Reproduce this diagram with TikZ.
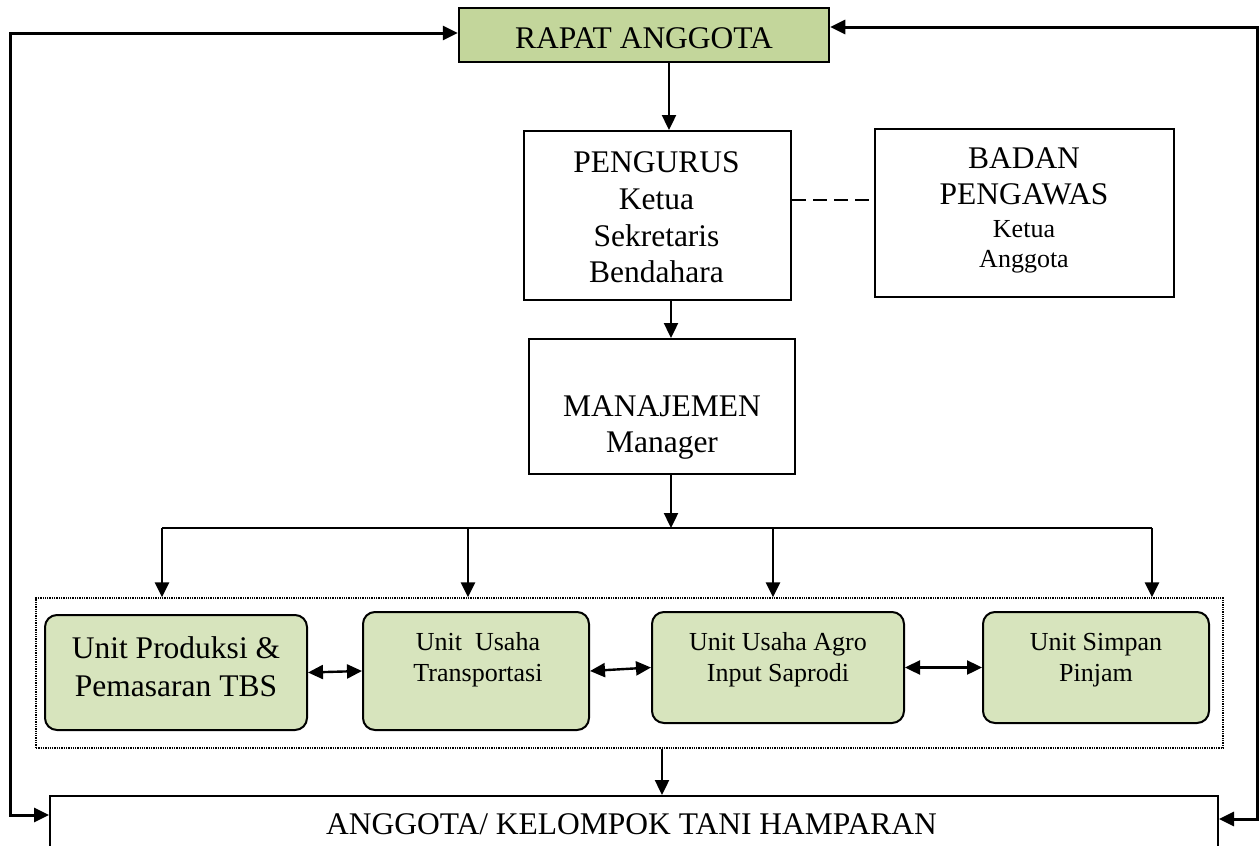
\documentclass[tikz,border=0pt]{standalone}
\usepackage{fontspec}
\setmainfont{Liberation Serif}
\usetikzlibrary{arrows.meta}
\definecolor{rapatgreen}{RGB}{195,214,155}
\definecolor{unitgreen}{RGB}{215,228,189}
\newcommand{\bigfont}{\fontsize{31.5}{36.7}\selectfont}
\newcommand{\smallfont}{\fontsize{26}{31}\selectfont}
\tikzset{
	frame/.style={draw, line width=2pt, inner sep=0pt},
	unit/.style={frame, rounded corners=12pt, fill=unitgreen},
	bigtext/.style={align=center, font=\bigfont, inner sep=0pt},
	smalltext/.style={align=center, font=\smallfont, inner sep=0pt},
	arr/.style={line width=2.4pt, -{Triangle[length=15pt,width=14pt]}},
	dblarr/.style={line width=2.4pt, {Triangle[length=15pt,width=14pt]}-{Triangle[length=15pt,width=14pt]}}
}
\begin{document}
\begin{tikzpicture}[x=1pt, y=-1pt]
		\useasboundingbox (0,0) rectangle (1259,846);
		\fill[white] (0,0) rectangle (1259,846);
		\clip (0,0) rectangle (1259,846);

		\node[frame, line width=2.5pt, fill=rapatgreen, minimum width=370pt, minimum height=54pt] (rapat) at (644,35) {};
		\node[bigtext] (rapatText) at (644,38) {RAPAT ANGGOTA};
		\node[frame, minimum width=267pt, minimum height=169pt] (pengurus) at (657.5,215.5) {};
		\node[bigtext] (pengurusText) at (656.5,217.5) {PENGURUS\\Ketua\\Sekretaris\\Bendahara};
		\node[frame, minimum width=299pt, minimum height=168pt] (badan) at (1024.5,213) {};
		\node[bigtext] (badanText) at (1024,210.4) {BADAN\\PENGAWAS\\[-3.7pt]{\smallfont Ketua}\\[-6.7pt]{\smallfont Anggota}};
		\node[frame, minimum width=266pt, minimum height=135pt] (manajemen) at (662,406.5) {};
		\node[bigtext] (manajemenText) at (662,427.5) {MANAJEMEN\\Manager};

		\node[draw, densely dotted, line width=1.3pt, minimum width=1187pt, minimum height=150pt] (units) at (629.5,673) {};
		\node[unit, minimum width=262pt, minimum height=115pt] (produksi) at (176,672.5) {};
		\node[bigtext] (produksiText) at (176,666.3) {Unit Produksi \&\\[1.3pt]Pemasaran TBS};
		\node[unit, minimum width=226pt, minimum height=118pt] (transport) at (476,671) {};
		\node[smalltext] (transportText) at (478,660.1) {Unit\ \ Usaha\\Transportasi};
		\node[unit, minimum width=252pt, minimum height=111pt] (agro) at (778,667.5) {};
		\node[smalltext] (agroText) at (778,659.8) {Unit Usaha Agro\\Input Saprodi};
		\node[unit, minimum width=226pt, minimum height=111pt] (simpan) at (1096,667.5) {};
		\node[smalltext] (simpanText) at (1096,659.8) {Unit Simpan\\Pinjam};

		\node[frame, minimum width=1168pt, minimum height=56pt] (anggota) at (634,824) {};
		\node[bigtext] (anggotaText) at (631.5,824.5) {ANGGOTA/ KELOMPOK TANI HAMPARAN};

		\coordinate (busW) at (162,528);
		\coordinate (busE) at (1152,528);
		\coordinate (loopL) at (10,815);
		\coordinate (loopR) at (1257,819);

		\draw [arr] (669,0 |- rapat.south) -- (669,0 |- pengurus.north);
		\draw [line width=2pt, dash pattern=on 14pt off 7pt] (pengurus.east |- 0,200) -- (badan.west |- 0,200);
		\draw [arr] (671,0 |- pengurus.south) -- (671,0 |- manajemen.north);
		\draw [arr] (671,0 |- manajemen.south) -- (671,0 |- busW);
		\draw [line width=2.4pt] (busW) -- (busE);
		\foreach \x in {162,468,773,1152}
			\draw [arr] (busW -| \x,0) -- (units.north -| \x,0);

		\draw [dblarr] (produksi.east) -- (transport.west);
		\draw [dblarr] (transport.east) -- (agro.west);
		\draw [dblarr] (agro.east) -- (simpan.west);
		\draw [arr] (662,0 |- units.south) -- (662,0 |- anggota.north);

		\draw [dblarr, line width=3pt] (rapat.west |- 0,33) -| (loopL) -- (loopL -| anggota.west);
		\draw [dblarr, line width=3pt] (rapat.east |- 0,27) -| (loopR) -- (loopR -| anggota.east);
	\end{tikzpicture}
\end{document}
